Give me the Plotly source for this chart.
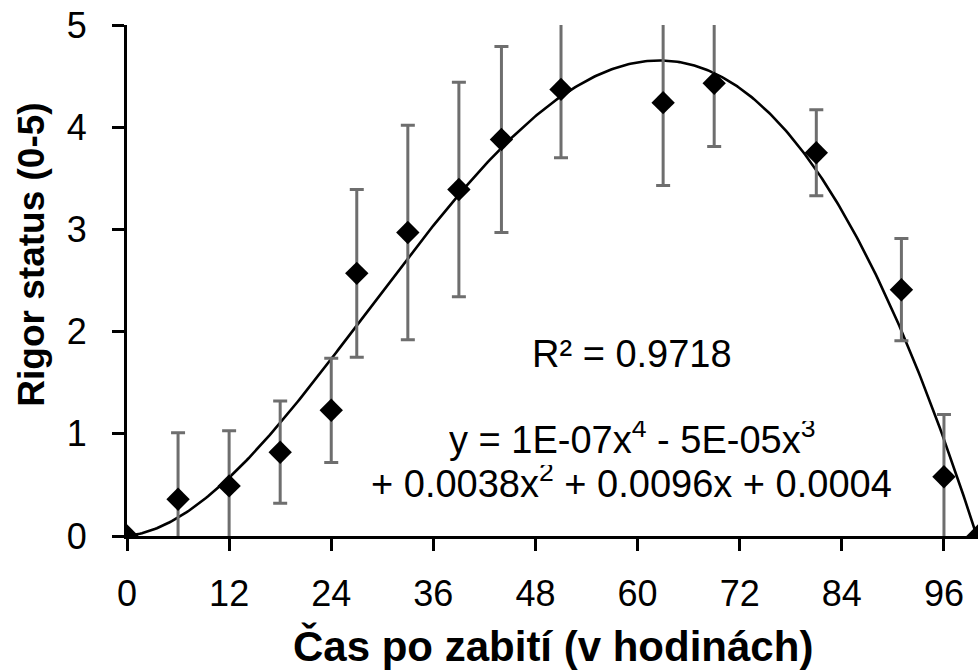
import numpy as np
import plotly.graph_objects as go

hours = [0, 6, 12, 18, 24, 27, 33, 39, 44, 51, 63, 69, 81, 91, 96, 100]
rigor = [0, 0.36, 0.49, 0.82, 1.23, 2.57, 2.97, 3.39, 3.88, 4.37, 4.24, 4.43, 3.75, 2.41, 0.58, 0]
err = [0, 0.65, 0.54, 0.50, 0.51, 0.82, 1.05, 1.05, 0.91, 0.67, 0.81, 0.62, 0.42, 0.50, 0.61, 0]
x_ticks = [0, 12, 24, 36, 48, 60, 72, 84, 96]
y_ticks = [0, 1, 2, 3, 4, 5]

# polynomial (order 4) trendline fitted to the data
coef = np.polyfit(hours, rigor, 4)
xf = np.linspace(0, 100, 400)
yf = np.polyval(coef, xf)

fig = go.Figure()
fig.add_trace(go.Scatter(x=xf, y=yf, mode="lines",
                         line=dict(color="black", width=2.6), hoverinfo="skip"))
fig.add_trace(go.Scatter(
    x=hours, y=rigor, mode="markers",
    marker=dict(symbol="diamond", size=18, color="black"),
    error_y=dict(type="data", array=err, visible=True, color="#6e6e6e",
                 thickness=3, width=7),
    cliponaxis=True))

font_family = "Liberation Sans, Arial, sans-serif"
fig.update_layout(
    width=980, height=670,
    margin=dict(l=127, r=2, t=25, b=134),
    plot_bgcolor="white", paper_bgcolor="white",
    showlegend=False,
    font=dict(family=font_family, size=36, color="black"),
    xaxis=dict(range=[0, 100], tickvals=x_ticks, showgrid=False, zeroline=False,
               showline=True, linecolor="black", linewidth=3,
               ticks="outside", ticklen=12, tickwidth=3, tickcolor="black",
               tickfont=dict(size=36), ticklabelstandoff=12),
    yaxis=dict(range=[0, 5], tickvals=y_ticks, showgrid=False, zeroline=False,
               showline=True, linecolor="black", linewidth=3,
               ticks="outside", ticklen=12, tickwidth=3, tickcolor="black",
               tickfont=dict(size=36), ticklabelstandoff=18),
    annotations=[
        dict(x=0.5, y=-0.215, xref="paper", yref="paper", xanchor="center", yanchor="middle",
             text="<b>Čas po zabití (v hodinách)</b>", showarrow=False, font=dict(size=42)),
        dict(x=-0.112, y=0.55, xref="paper", yref="paper", xanchor="center", yanchor="middle",
             text="<b>Rigor status (0-5)</b>", textangle=-90, showarrow=False, font=dict(size=37)),
        dict(x=59.3, y=1.78, xref="x", yref="y", text="R² = 0.9718", showarrow=False,
             font=dict(size=38)),
        dict(x=59.3, y=0.93, xref="x", yref="y",
             text="y = 1E-07x<sup>4</sup> - 5E-05x<sup>3</sup>",
             showarrow=False, font=dict(size=38), height=40, valign="bottom"),
        dict(x=59.3, y=0.50, xref="x", yref="y",
             text="+ 0.0038x<sup>2</sup> + 0.0096x + 0.0004",
             showarrow=False, font=dict(size=38), height=40, valign="bottom"),
    ],
)

fig.write_html("out.html")
